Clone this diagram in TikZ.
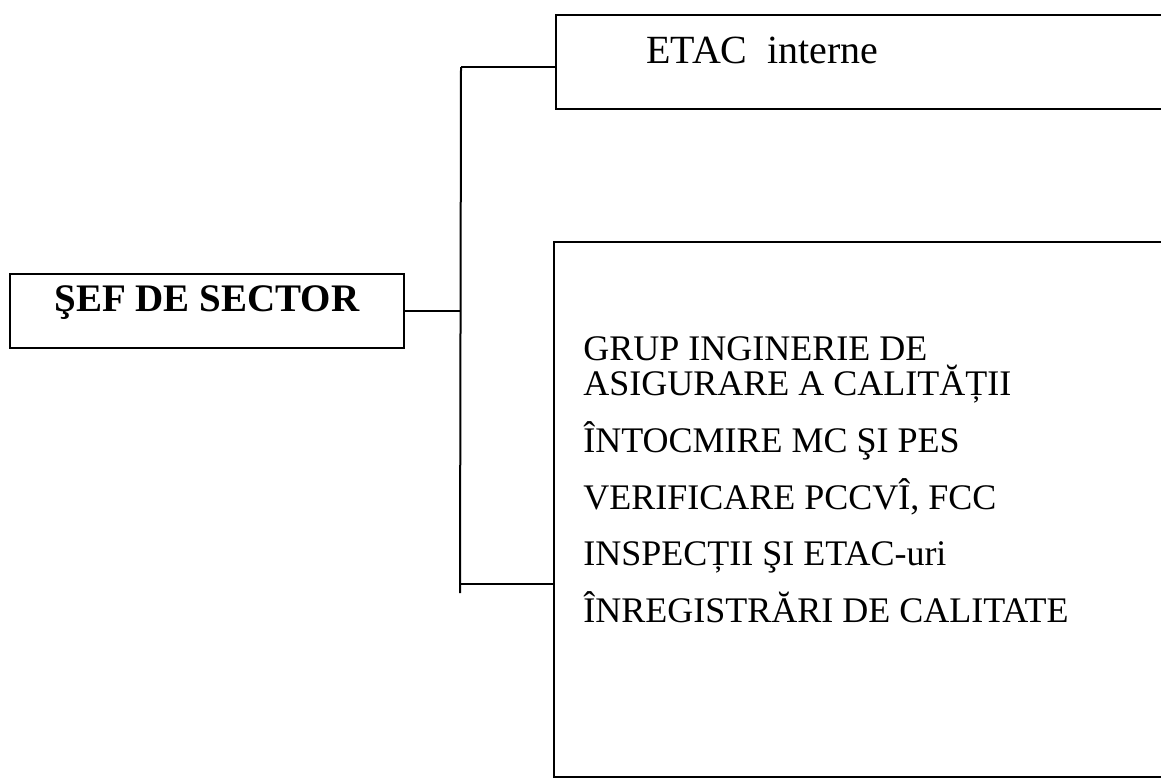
\documentclass[tikz,border=0pt]{standalone}
\usepackage{fontspec}
\setmainfont{Liberation Serif}
\usepackage{tikz}
\tikzset{
  box/.style={draw, line width=1pt, inner sep=0pt},
  link/.style={line width=1pt},
  item/.style={anchor=base west, inner sep=0pt, font=\fontsize{18}{20}\selectfont}
}

\begin{document}
\begin{tikzpicture}[x=0.5pt,y=-0.5pt]
\useasboundingbox (0,0) rectangle (1161,778);
\clip (0,0) rectangle (1161,778);

% left box
\node[box, minimum width=197pt, minimum height=37pt] (sef) at (207,311) {};
\node[anchor=base, inner sep=0pt, font=\fontsize{19.5}{22}\selectfont\bfseries] (seftxt) at (207,311) {ŞEF DE SECTOR};

% right boxes, cut off by the page edge
\node[box, anchor=north west, minimum width=330pt, minimum height=47pt] (etac) at (555,14) {};
\node[anchor=base west, inner sep=0pt, font=\fontsize{20}{22}\selectfont] (etactxt) at (646,63) {ETAC~ interne};

\node[box, anchor=north west, minimum width=330pt, minimum height=267.5pt] (list) at (553,241) {};
\node[item] (grup) at (583,360) {GRUP INGINERIE DE};
\node[item] (asig) at (583,395) {ASIGURARE A CALITĂȚII};
\node[item] (mc) at (583,452) {ÎNTOCMIRE MC ŞI PES};
\node[item] (verif) at (583,509) {VERIFICARE PCCVÎ, FCC};
\node[item] (insp) at (583,565) {INSPECȚII ŞI ETAC-uri};
\node[item] (inreg) at (583,622) {ÎNREGISTRĂRI DE CALITATE};

% connectors
\coordinate (ttop) at (461,67);
\coordinate (tbot) at (460,593);
\coordinate (tlist) at (460,584);
\draw[link] (ttop) -- (tbot);
\draw[link] (sef.east) -- (sef.east -| ttop);
\draw[link] (ttop) -- (ttop -| etac.west);
\draw[link] (tlist) -- (tlist -| list.west);
\end{tikzpicture}
\end{document}
